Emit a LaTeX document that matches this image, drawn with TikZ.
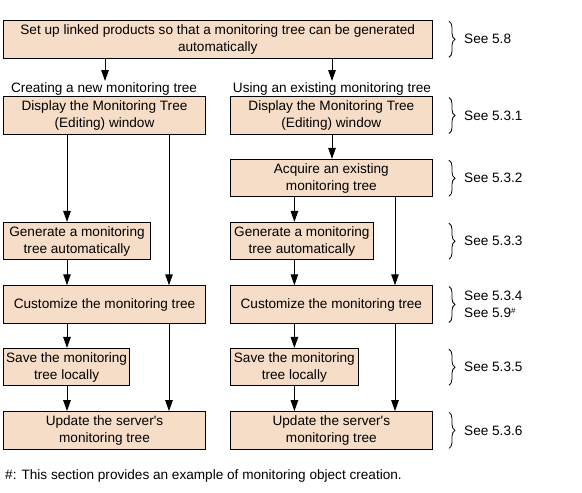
\documentclass[tikz,border=0pt]{standalone}
\usepackage{fontspec}
\setmainfont{Liberation Sans}
\usetikzlibrary{arrows.meta,decorations.pathreplacing}
\definecolor{peach}{RGB}{246,221,200}
\begin{document}
\begin{tikzpicture}[x=1pt,y=-1pt,
  every node/.style={font=\fontsize{13.6}{17}\selectfont, inner sep=0pt},
  box/.style={draw=black, line width=1pt, fill=peach, minimum height=37.5pt, align=center},
  arr/.style={line width=1pt, -{Triangle[length=11pt,width=7.5pt]}},
  brc/.style={line width=0.8pt, decorate, decoration={brace, amplitude=6pt}},
  see/.style={anchor=west, align=left}]
\useasboundingbox (0,0) rectangle (582,493);
% boxes
\node[box, minimum width=428.5pt] (top) at (217.75,39.3) {Set up linked products so that a monitoring tree can be generated\\automatically};
\node[box, minimum width=202pt] (dispL) at (104.5,115.5) {Display the Monitoring Tree\\(Editing) window};
\node[box, minimum width=201.3pt] (dispR) at (331.35,115.5) {Display the Monitoring Tree\\(Editing) window};
\node[box, minimum width=201.3pt] (acq) at (331.35,178.2) {Acquire an existing\\monitoring tree};
\node[box, minimum width=147pt] (genL) at (77,241.2) {Generate a monitoring\\tree automatically};
\node[box, minimum width=142.3pt] (genR) at (301.85,241.2) {Generate a monitoring\\tree automatically};
\node[box, minimum width=202pt] (cusL) at (104.5,304.5) {Customize the monitoring tree};
\node[box, minimum width=201.3pt] (cusR) at (331.35,304.5) {Customize the monitoring tree};
\node[box, minimum width=126.2pt] (savL) at (66.6,367.2) {Save the monitoring\\tree locally};
\node[box, minimum width=127.3pt] (savR) at (294.35,367.2) {Save the monitoring\\tree locally};
\node[box, minimum width=202pt] (updL) at (104.5,430.4) {Update the server\textquotesingle s\\monitoring tree};
\node[box, minimum width=201.3pt] (updR) at (331.35,430.4) {Update the server\textquotesingle s\\monitoring tree};
% branch labels
\node (labL) at (104,88.5) {Creating a new monitoring tree};
\node (labR) at (332,88.5) {Using an existing monitoring tree};
\coordinate (eL) at (105,81);
\coordinate (eR) at (332,81);
% top arrows
\draw[arr] (top.south -| eL) -- (eL);
\draw[arr] (top.south -| eR) -- (eR);
% left column
\coordinate (xa) at (67,0);
\coordinate (xb) at (169,0);
\draw[arr] (dispL.south -| xa) -- (genL.north -| xa);
\draw[arr] (dispL.south -| xb) -- (cusL.north -| xb);
\draw[arr] (genL.south -| xa) -- (cusL.north -| xa);
\draw[arr] (cusL.south -| xa) -- (savL.north -| xa);
\draw[arr] (savL.south -| xa) -- (updL.north -| xa);
\draw[arr] (cusL.south -| xb) -- (updL.north -| xb);
% right column
\coordinate (xc) at (294.4,0);
\coordinate (xd) at (395,0);
\coordinate (xe) at (332,0);
\draw[arr] (dispR.south -| xe) -- (acq.north -| xe);
\draw[arr] (acq.south -| xc) -- (genR.north -| xc);
\draw[arr] (acq.south -| xd) -- (cusR.north -| xd);
\draw[arr] (genR.south -| xc) -- (cusR.north -| xc);
\draw[arr] (cusR.south -| xc) -- (savR.north -| xc);
\draw[arr] (savR.south -| xc) -- (updR.north -| xc);
\draw[arr] (cusR.south -| xd) -- (updR.north -| xd);
% braces and references
\foreach \yc in {39.3, 115.5, 178.2, 241.2, 304.5, 367.2, 430.4} {
  \draw[brc] (449,\yc-18) -- (449,\yc+18);
}
\node[see] (s1) at (464,39.3) {See 5.8};
\node[see] (s2) at (464,115.5) {See 5.3.1};
\node[see] (s3) at (464,178.2) {See 5.3.2};
\node[see] (s4) at (464,241.2) {See 5.3.3};
\node[see] (s5) at (464,304.5) {See 5.3.4\\See 5.9\rlap{\raisebox{0.6ex}{\fontsize{8}{8}\selectfont\#}}};
\node[see] (s6) at (464,367.2) {See 5.3.5};
\node[see] (s7) at (464,430.4) {See 5.3.6};
% footnote
\node[anchor=west] (fn) at (5,476) {\#: This section provides an example of monitoring object creation.};
\end{tikzpicture}
\end{document}
